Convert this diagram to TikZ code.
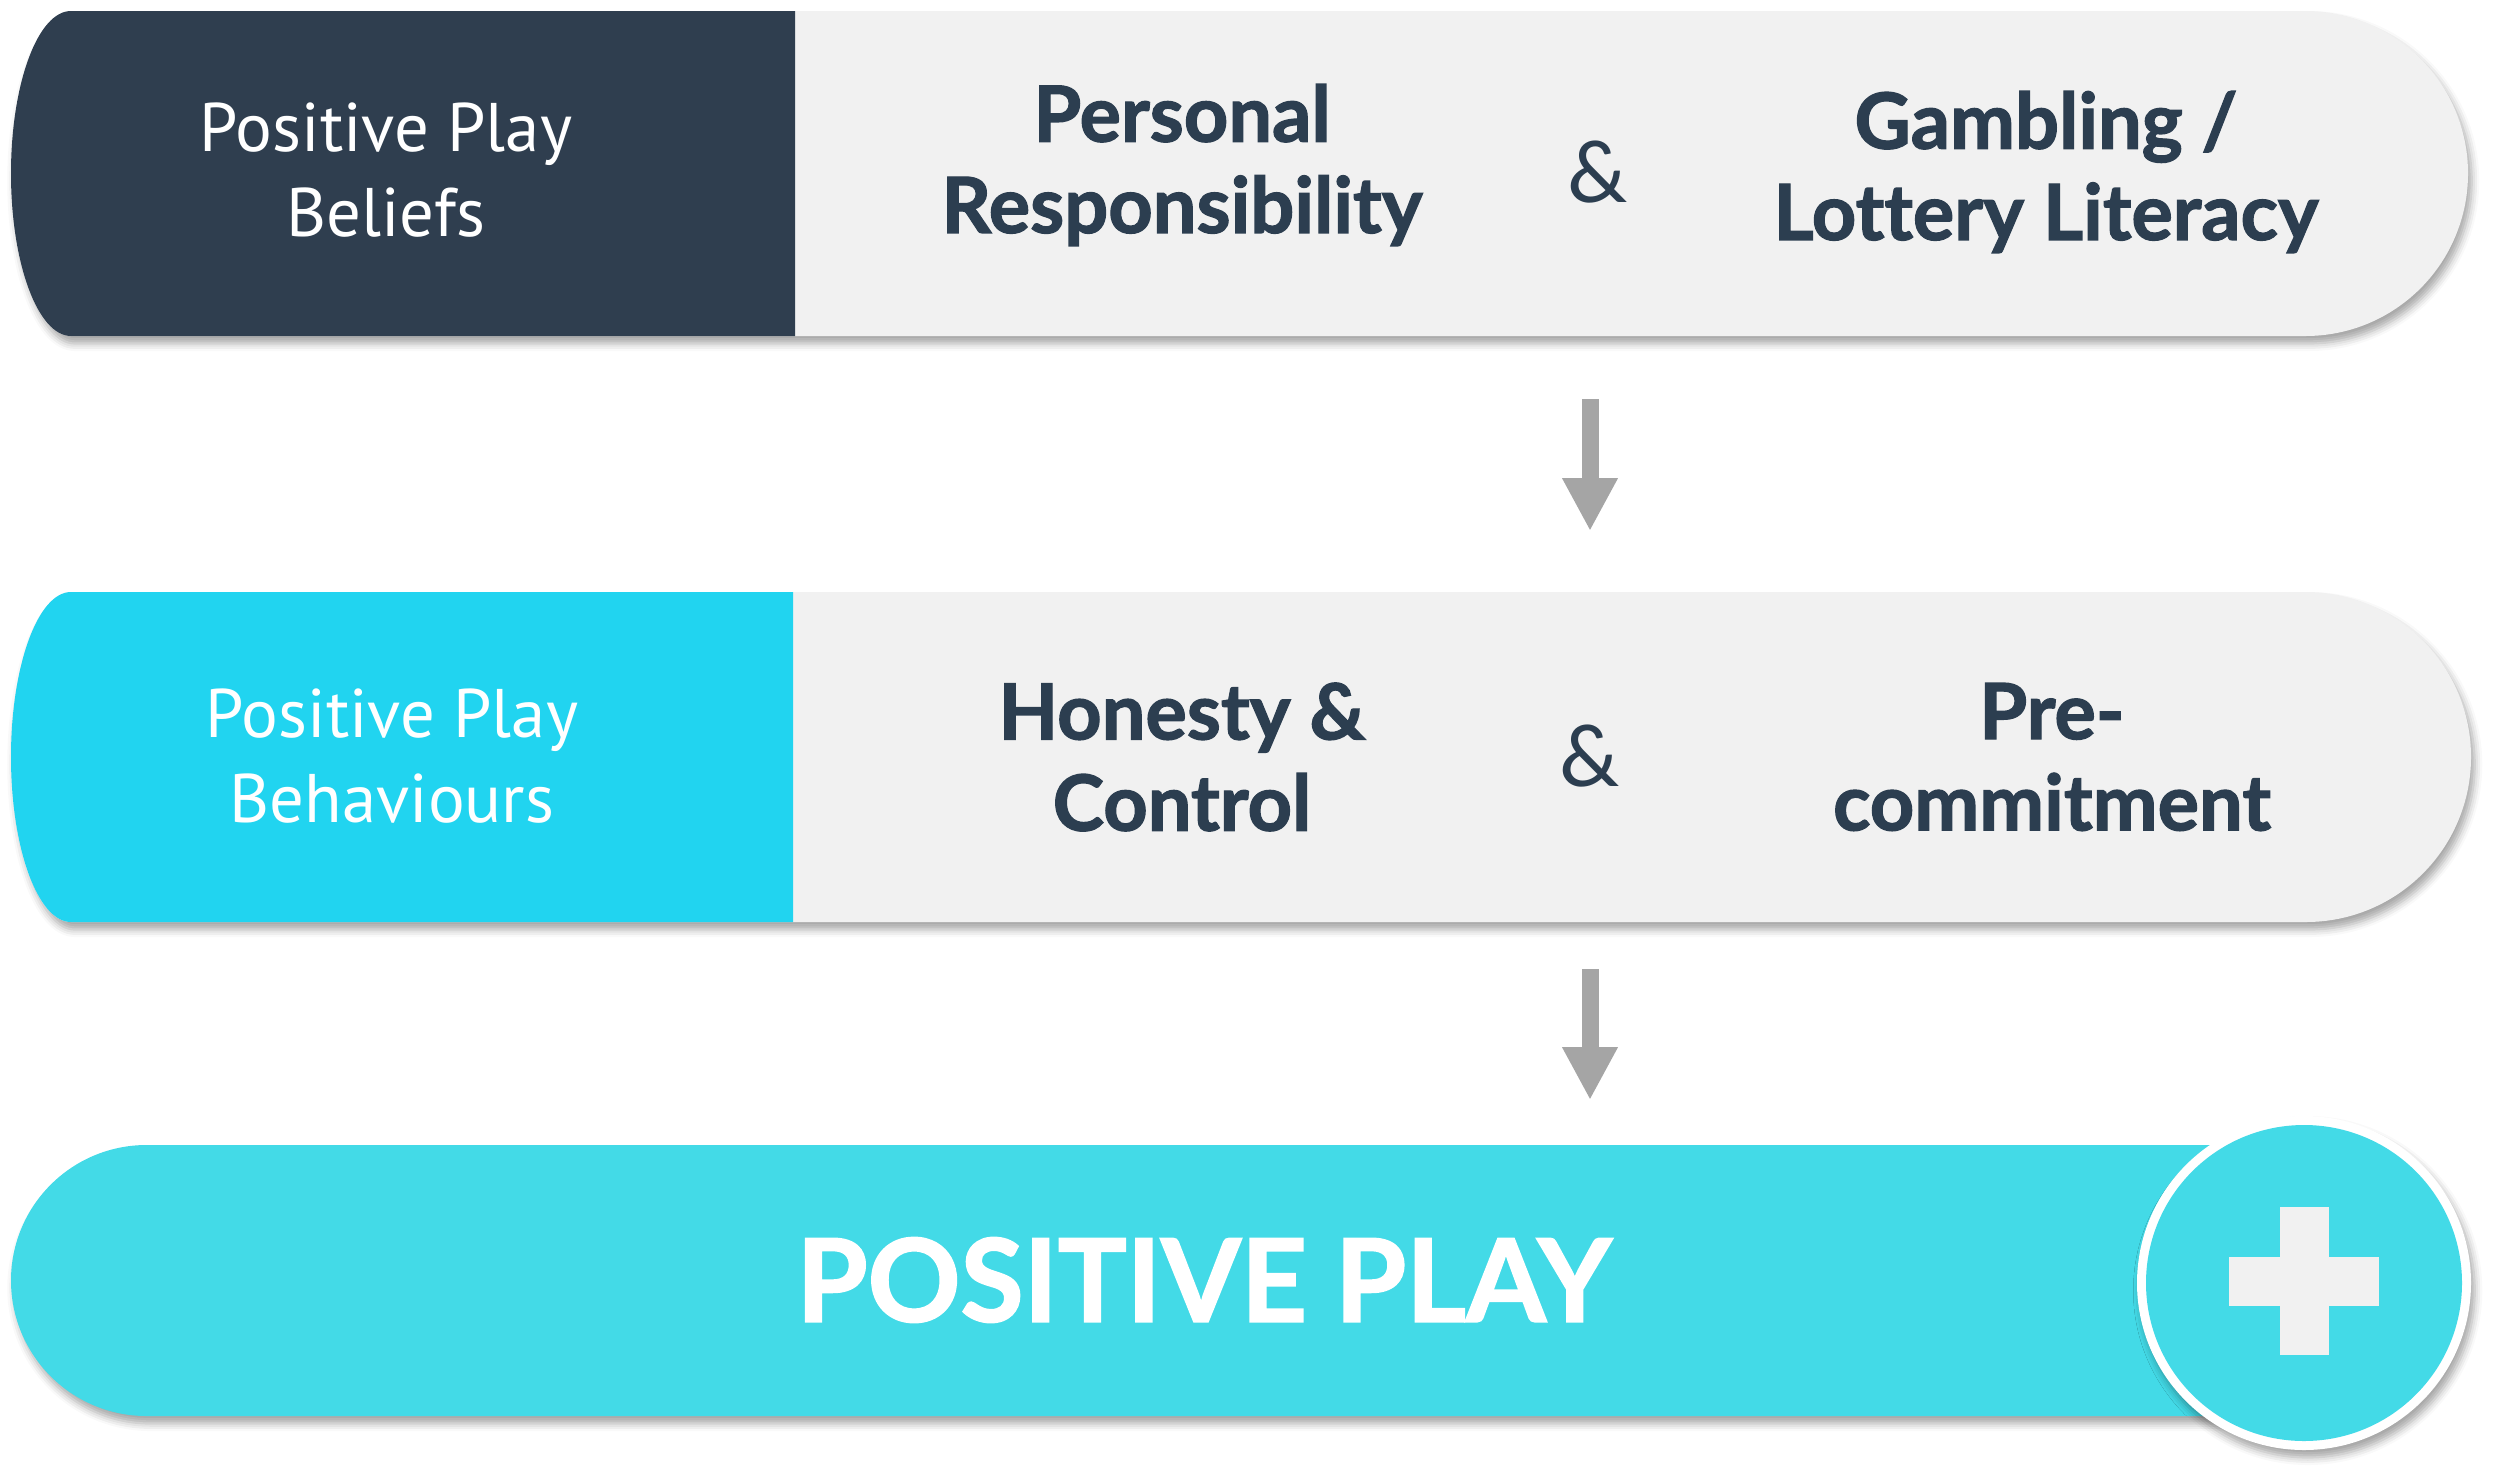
\documentclass[tikz,border=0pt]{standalone}
\usepackage{fontspec}
\setmainfont{Lato}
\newfontfamily\narrowfont{PT Sans}
\newfontfamily\heavyfont[Ligatures=NoCommon,BoldFeatures={FakeBold=1.6}]{Lato}
\usetikzlibrary{arrows.meta,shadows.blur}

\definecolor{navy}{HTML}{2F3E4F}
\definecolor{cyanmid}{HTML}{21D4F0}
\definecolor{cyanlow}{HTML}{43DAE7}
\definecolor{bandgrey}{HTML}{F1F1F1}
\definecolor{txtdark}{HTML}{2C3E50}
\definecolor{arrgrey}{HTML}{A5A5A5}

\begin{document}
\begin{tikzpicture}[x=0.4pt,y=-0.4pt,
    bandshadow/.style={blur shadow={shadow xshift=1.5pt,shadow yshift=-3pt,
        shadow blur radius=3pt,shadow opacity=35}},
    sidelbl/.style={text=white,align=center,font=\narrowfont\fontsize{27.5}{34}\selectfont},
    keylbl/.style={text=txtdark,align=center,font=\heavyfont\bfseries\fontsize{31}{36.5}\selectfont},
    andlbl/.style={text=txtdark,font=\fontsize{34}{40}\selectfont},
    bigarrow/.style={draw=arrgrey,line width=6.8pt,-{Triangle[width=20.8pt,length=21.2pt]}}]
    \useasboundingbox (0,0) rectangle (2500,1475);
    % top band: beliefs
    \fill[bandgrey,bandshadow] (71,11) -- (2305.5,11)
        arc[start angle=-90,end angle=90,radius=162.5] -- (71,336)
        arc[start angle=90,end angle=270,x radius=60,y radius=162.5] -- cycle;
    \fill[navy] (795,11) -- (71,11)
        arc[start angle=270,end angle=90,x radius=60,y radius=162.5] -- (795,336) -- cycle;
    \node[sidelbl] (beliefs) at (386,170) {Positive Play\\Beliefs};
    \node[keylbl] (respons) at (1182,165) {Personal\\Responsibility};
    \node[andlbl] (and1) at (1598,172) {\&};
    \node[keylbl] (literacy) at (2046,172) {Gambling /\\Lottery Literacy};
    % middle band: behaviours
    \fill[bandgrey,bandshadow] (71,592) -- (2306,592)
        arc[start angle=-90,end angle=90,radius=165] -- (71,922)
        arc[start angle=90,end angle=270,x radius=60,y radius=165] -- cycle;
    \fill[cyanmid] (793,592) -- (71,592)
        arc[start angle=270,end angle=90,x radius=60,y radius=165] -- (793,922) -- cycle;
    \node[sidelbl] (behav) at (392,756) {Positive Play\\Behaviours};
    \node[keylbl] (honesty) at (1182,757) {Honesty \&\\Control};
    \node[andlbl] (and2) at (1590,756) {\&};
    \node[keylbl] (precomm) at (2052,757) {Pre-\\commitment};
    % bottom band
    \fill[cyanlow,bandshadow] (146.5,1145) -- (2304,1145) -- (2304,1416) -- (146.5,1416)
        arc[start angle=90,end angle=270,radius=135.5] -- cycle;
    \node[text=white,font=\heavyfont\bfseries\fontsize{46}{52}\selectfont] (posplay) at (1204,1280) {POSITIVE PLAY};
    \fill[white,bandshadow] (2304,1283) circle[radius=167];
    \fill[cyanlow] (2304,1283) circle[radius=158];
    \fill[bandgrey] (2229,1256.5) rectangle (2379,1305.5);
    \fill[bandgrey] (2279.5,1207) rectangle (2328.5,1355);
    % arrows
    \coordinate (a1s) at (1590,399);
    \coordinate (a1e) at (1590,531);
    \coordinate (a2s) at (1590,969);
    \coordinate (a2e) at (1590,1100);
    \draw[bigarrow] (a1s) -- (a1e);
    \draw[bigarrow] (a2s) -- (a2e);
\end{tikzpicture}
\end{document}
